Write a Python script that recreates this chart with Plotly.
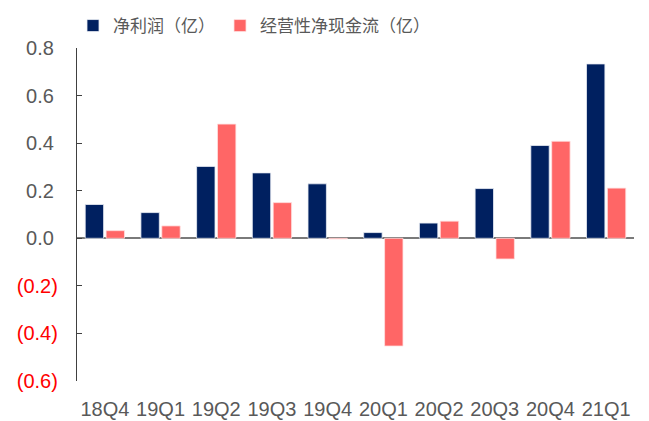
import plotly.graph_objects as go

categories = ["18Q4", "19Q1", "19Q2", "19Q3", "19Q4", "20Q1", "20Q2", "20Q3", "20Q4", "21Q1"]
net_profit = [0.142, 0.108, 0.302, 0.275, 0.229, 0.024, 0.064, 0.209, 0.390, 0.733]
op_cash_flow = [0.032, 0.052, 0.480, 0.150, -0.003, -0.453, 0.072, -0.087, 0.408, 0.211]
series_names = ["净利润（亿）", "经营性净现金流（亿）"]
tick_vals = [0.8, 0.6, 0.4, 0.2, 0.0, -0.2, -0.4, -0.6]

def fmt(v):
    if v < 0:
        return f"<span style='color:#FF0000'>({abs(v):.1f})</span>"
    return f"{v:.1f}\u2009"

tick_text = [fmt(v) for v in tick_vals]

NAVY = "#002060"
SALMON = "#FF6666"
GREY = "#595959"
FONT = "Liberation Sans, Noto Sans CJK SC, sans-serif"

fig = go.Figure()
fig.add_trace(go.Bar(x=categories, y=net_profit, name=series_names[0],
                     marker=dict(color=NAVY, line=dict(color="#E8ECF4", width=0.8))))
fig.add_trace(go.Bar(x=categories, y=op_cash_flow, name=series_names[1],
                     marker=dict(color=SALMON, line=dict(color="#FFE0E0", width=0.8))))

W, H = 641, 413

fig.update_layout(
    width=W, height=H,
    margin=dict(l=69, r=15, t=40, b=40, pad=0, autoexpand=False),
    paper_bgcolor="white", plot_bgcolor="white",
    font=dict(family=FONT, size=19, color=GREY),
    barmode="group", bargap=0.25, bargroupgap=0.12,
    showlegend=True,
    legend=dict(orientation="h", x=65 / W, xref="container", xanchor="left",
                y=1.0, yref="container", yanchor="top", bgcolor="rgba(0,0,0,0)",
                font=dict(size=17, color=GREY, family="Noto Sans CJK SC, sans-serif"),
                itemclick=False),
    xaxis=dict(showline=False, ticks="", showgrid=False, zeroline=False,
               tickfont=dict(size=20, color=GREY), ticklabelstandoff=14,
               range=[-0.5, 9.5]),
    yaxis=dict(range=[-0.6, 0.8], tickvals=tick_vals, ticktext=tick_text,
               showline=True, linecolor="#404040", linewidth=1.2,
               ticks="inside", ticklen=5, tickcolor="#404040",
               showgrid=False, zeroline=True, zerolinecolor="#7A7A7A", zerolinewidth=1.6,
               tickfont=dict(size=20, color=GREY), ticklabelstandoff=14),
)

fig.write_html("out.html")
